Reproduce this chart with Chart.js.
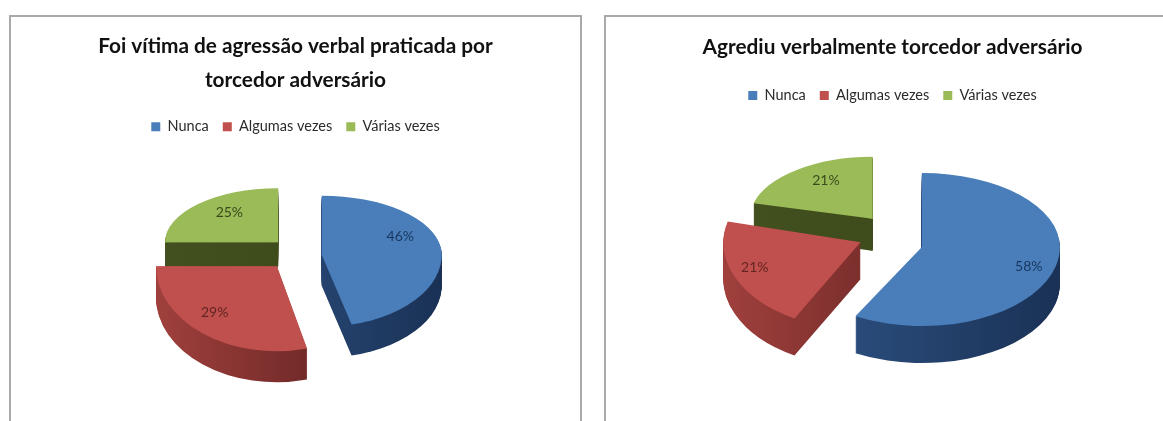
<!DOCTYPE html>
<html><head><meta charset="utf-8">
<script src="https://cdn.jsdelivr.net/npm/chart.js@4"></script>
<style>
html,body{margin:0;padding:0;background:#fff;overflow:hidden;width:1163px;height:421px}
.panel{position:absolute;top:15px;height:420px;box-sizing:border-box;border:2px solid #a9a9a9;background:#fff}
#pa{left:9px;width:573px}
#pb{left:604px;width:590px}
canvas{position:absolute;left:-1px;top:-1px;filter:blur(.45px)}
</style></head><body>
<div class="panel" id="pa"><canvas id="ca" width="571" height="405" style="width:571px;height:405px"></canvas></div>
<div class="panel" id="pb"><canvas id="cb" width="575" height="405" style="width:575px;height:405px"></canvas></div>
<script>
const categories = ['Nunca', 'Algumas vezes', 'Várias vezes'];
const titleA = ['Foi vítima de agressão verbal praticada por', 'torcedor adversário'];
const titleB = 'Agrediu verbalmente torcedor adversário';
const valuesA = [46, 29, 25];
const valuesB = [58, 21, 21];

const faceColors = ['#4A7EBB', '#C0504D', '#9BBB59'];
const sideLight = ['#2F5587', '#A0403D', '#42501F'];
const sideDark = ['#1A3155', '#571E1D', '#3B4819'];
const labelColors = ['#17375E', '#632523', '#3A4A1C'];
const drawOrder = [2, 1, 0];

const styleA = {
  padding: {left: 0, right: 0, top: 0, bottom: 61}, shiftX: -7.5,
  offsets: [34, 18, 14], drops: [7, 0, 0],
  rx: [120, 121, 113], ryTop: [59, 80, 54], ryBottom: [72, 85, 54], depth: [31, 31, 25],
  labelAt: [0.66, 0.84, 0.61], labelLift: [13, 10, 6]
};
const styleB = {
  padding: {left: 0, right: 0, top: 0, bottom: 57}, shiftX: -4.5,
  offsets: [35, 30, 25], drops: [0, -8, 0],
  rx: [138, 137, 123], ryTop: [74, 84, 62], ryBottom: [79, 87, 62], depth: [37, 37, 32],
  labelAt: [0.8, 0.84, 0.62], labelLift: [-4, 4, 8]
};

function tiltedPie(style) {
  function place(arc, i) {
    const mid = (arc.startAngle + arc.endAngle) / 2;
    const off = style.offsets[i];
    return {
      mid, R: arc.outerRadius,
      ax: arc.x + style.shiftX + Math.cos(mid) * off,
      ay: arc.y + Math.sin(mid) * off + style.drops[i]
    };
  }
  function paint(ctx, arc, i, p, fill, shift) {
    const saved = arc.options;
    arc.options = Object.assign({}, saved, {backgroundColor: fill, borderWidth: 0, offset: 0});
    const sx = style.rx[i] / p.R;
    [[style.ryTop[i], -5000, p.ay + shift + 0.5 + 5000], [style.ryBottom[i], p.ay + shift - 0.5, 5000]].forEach(([ry, y0, h]) => {
      ctx.save();
      ctx.beginPath();
      ctx.rect(-100, y0, 2000, h);
      ctx.clip();
      ctx.translate(p.ax, p.ay + shift);
      ctx.scale(sx, ry / p.R);
      ctx.translate(-arc.x, -arc.y);
      arc.draw(ctx);
      ctx.restore();
    });
    arc.options = saved;
  }
  return {
    id: 'tiltedPie',
    beforeDatasetsDraw(chart) {
      const ctx = chart.ctx;
      const arcs = chart.getDatasetMeta(0).data;
      drawOrder.forEach(i => {
        const arc = arcs[i];
        const p = place(arc, i);
        const g = ctx.createLinearGradient(arc.x - p.R, 0, arc.x + p.R, 0);
        g.addColorStop(0, sideLight[i]);
        g.addColorStop(1, sideDark[i]);
        for (let d = style.depth[i]; d >= 1; d--) paint(ctx, arc, i, p, g, d);
        paint(ctx, arc, i, p, faceColors[i], 0);
      });
      ctx.save();
      ctx.font = '14px Lato';
      ctx.textAlign = 'center';
      ctx.textBaseline = 'middle';
      drawOrder.forEach(i => {
        const p = place(arcs[i], i);
        const c = Math.cos(p.mid), s = Math.sin(p.mid);
        const ry = s < 0 ? style.ryTop[i] : style.ryBottom[i];
        ctx.fillStyle = labelColors[i];
        ctx.fillText(chart.data.datasets[0].data[i] + '%',
          p.ax + c * style.rx[i] * style.labelAt[i],
          p.ay + s * ry * style.labelAt[i] - style.labelLift[i]);
      });
      ctx.restore();
      return false;
    },
    beforeDatasetDraw() { return false; }
  };
}

function makeChart(id, title, values, style, titlePad) {
  return new Chart(document.getElementById(id), {
    type: 'pie',
    data: {labels: categories, datasets: [{
      data: values, backgroundColor: faceColors, borderWidth: 0,
      offset: style.offsets.map(v => v * 4)
    }]},
    options: {
      responsive: false, animation: false, rotation: 0,
      layout: {padding: style.padding},
      plugins: {
        tooltip: {enabled: false},
        title: {display: true, text: title, color: '#111', font: {family: 'Lato', weight: 'bold', size: 20.8, lineHeight: 1.6}, padding: titlePad},
        legend: {display: true, position: 'top', labels: {
          color: '#2b2b2b', font: {family: 'Lato', size: 14.5}, boxWidth: 9, boxHeight: 9, padding: 14
        }}
      }
    },
    plugins: [tiltedPie(style)]
  });
}
makeChart('ca', titleA, valuesA, styleA, {top: 14, bottom: 9});
makeChart('cb', titleB, valuesB, styleB, {top: 15, bottom: 10});
</script>
</body></html>
